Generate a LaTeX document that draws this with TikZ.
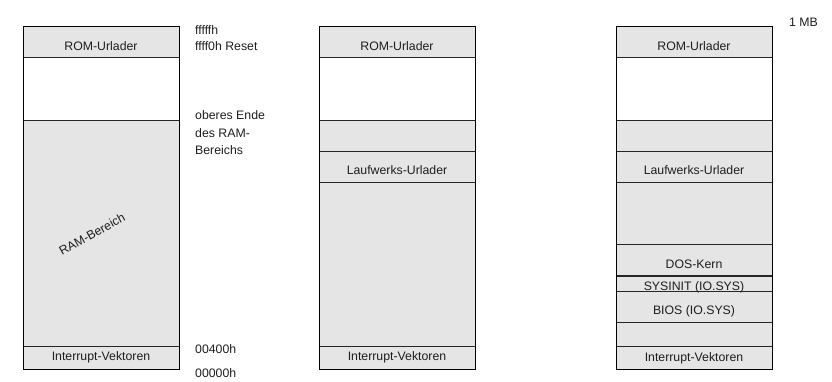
\documentclass[tikz,border=0pt]{standalone}
\usepackage{fontspec}
\setmainfont{Liberation Sans}
\definecolor{memgray}{HTML}{E5E5E5}
\definecolor{txtc}{HTML}{1E1E1E}
\begin{document}
\begin{tikzpicture}[x=1pt,y=-1pt,
  block/.style={draw=black!85, line width=0.8pt, inner sep=0pt, outer sep=0pt,
    minimum width=156pt, anchor=north west},
  gray block/.style={block, fill=memgray},
  white block/.style={block, fill=white},
  lbl/.style={font=\fontsize{12.3}{14}\selectfont, text=txtc, inner sep=0pt, anchor=base},
  addr/.style={lbl, anchor=base west}]
\useasboundingbox (0,0) rectangle (832,382);

% ---- first map: RAM layout ----
\node[gray block, minimum height=31pt] (a1) at (23,26) {};
\node[white block, minimum height=63pt] (a2) at (23,57) {};
\node[gray block, minimum height=226pt] (a3) at (23,120) {};
\node[gray block, minimum height=23pt] (a4) at (23,346) {};
\draw[black, line width=0.9pt] (a1.north west) rectangle (a4.south east);
\node[lbl] (ta1) at (101,50.7) {ROM-Urlader};
\node[lbl, anchor=center, rotate=29] (ta3) at (92,234) {RAM-Bereich};
\node[lbl] (ta4) at (101,360.5) {Interrupt-Vektoren};

% addresses
\node[addr] (fffff) at (195,34.5) {fffffh};
\node[addr] (ffff0) at (195,50.7) {ffff0h Reset};
\node[addr] (ob1) at (195,119.5) {oberes Ende};
\node[addr] (ob2) at (195,137.5) {des RAM-};
\node[addr] (ob3) at (195,155) {Bereichs};
\node[addr] (a400) at (195,353.5) {00400h};
\node[addr] (a000) at (195,377) {00000h};

% ---- second map: drive bootstrap loaded ----
\node[gray block, minimum height=31pt] (b1) at (319,26) {};
\node[white block, minimum height=63pt] (b2) at (319,57) {};
\node[gray block, minimum height=31pt] (b3) at (319,120) {};
\node[gray block, minimum height=31pt] (b4) at (319,151) {};
\node[gray block, minimum height=164pt] (b5) at (319,182) {};
\node[gray block, minimum height=23pt] (b6) at (319,346) {};
\draw[black, line width=0.9pt] (b1.north west) rectangle (b6.south east);
\node[lbl] (tb1) at (397,50.7) {ROM-Urlader};
\node[lbl] (tb4) at (397,175) {Laufwerks-Urlader};
\node[lbl] (tb6) at (397,360.5) {Interrupt-Vektoren};

% ---- third map: DOS loaded ----
\node[gray block, minimum height=31pt] (c1) at (616,26) {};
\node[white block, minimum height=63pt] (c2) at (616,57) {};
\node[gray block, minimum height=31pt] (c3) at (616,120) {};
\node[gray block, minimum height=31pt] (c4) at (616,151) {};
\node[gray block, minimum height=62pt] (c5) at (616,182) {};
\node[gray block, minimum height=31.3pt] (c6) at (616,244) {};
\node[gray block, minimum height=14.3pt] (c7) at (616,276.7) {};
\node[gray block, minimum height=31pt] (c8) at (616,291) {};
\node[gray block, minimum height=24pt] (c9) at (616,322) {};
\node[gray block, minimum height=23pt] (c10) at (616,346) {};
\draw[black, line width=0.9pt] (c1.north west) rectangle (c10.south east);
\node[lbl] (tc1) at (694,50.7) {ROM-Urlader};
\node[lbl] (tc4) at (694,175) {Laufwerks-Urlader};
\node[lbl] (tc6) at (694,268.3) {DOS-Kern};
\node[lbl] (tc7) at (694,290.7) {SYSINIT (IO.SYS)};
\node[lbl] (tc8) at (694,314.5) {BIOS (IO.SYS)};
\node[lbl] (tc10) at (694,361) {Interrupt-Vektoren};

\node[addr] (mb) at (789,26.5) {1 MB};
\end{tikzpicture}
\end{document}
